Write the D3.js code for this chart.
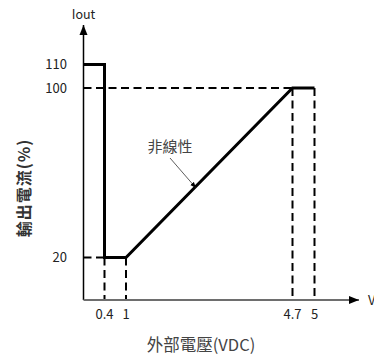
<!DOCTYPE html>
<html><head><meta charset="utf-8">
<script src="https://cdn.jsdelivr.net/npm/d3@7"></script>
<style>body{margin:0;background:#fff}svg{display:block}text{font-family:"Noto Sans CJK TC","Noto Sans",sans-serif}</style>
</head><body>
<script>
const xTicks = [0.4, 1, 4.7, 5];
const yTicks = [20, 100, 110];
const curveX = [0, 0.4, 0.4, 1, 4.7, 5];
const curveY = [110, 110, 20, 20, 100, 100];
const guideH = [[0, 0.4, 20], [0, 4.7, 100]];
const guideV = [[0.4, 20], [1, 20], [4.7, 100], [5, 100]];
const xTitle = "外部電壓(VDC)";
const yTitle = "輸出電流(%)";
const yAxisLabel = "Iout";
const xAxisLabel = "V";
const annotation = "非線性";

const W = 374, H = 357;
const svg = d3.select("body").append("svg").attr("width", W).attr("height", H);
const x = d3.scaleLinear().domain([0, 0.4, 1, 4.7, 5]).range([83.5, 104.5, 126, 292.5, 314.5]);
const y = d3.scaleLinear().domain([0, 20, 100, 110]).range([300, 257.5, 88, 64.5]);

const defs = svg.append("defs");
defs.append("marker").attr("id","arr").attr("viewBox","0 0 10 10").attr("refX",10).attr("refY",5)
  .attr("markerWidth",10).attr("markerHeight",10).attr("markerUnits","userSpaceOnUse").attr("orient","auto")
  .append("path").attr("d","M0,1 L10,5 L0,9 Z").attr("fill","#000");
defs.append("marker").attr("id","arrS").attr("viewBox","0 0 10 10").attr("refX",10).attr("refY",5)
  .attr("markerWidth",6).attr("markerHeight",6).attr("markerUnits","userSpaceOnUse").attr("orient","auto")
  .append("path").attr("d","M0,1 L10,5 L0,9 Z").attr("fill","#000");

// guides
const dash = "8,4.5";
svg.selectAll(".gh").data(guideH).join("line")
  .attr("x1", d => x(d[0])).attr("x2", d => x(d[1])).attr("y1", d => y(d[2])).attr("y2", d => y(d[2]))
  .attr("stroke","#000").attr("stroke-width",2).attr("stroke-dasharray",dash);
svg.selectAll(".gv").data(guideV).join("line")
  .attr("x1", d => x(d[0])).attr("x2", d => x(d[0])).attr("y1", d => y(d[1])).attr("y2", y(0))
  .attr("stroke","#000").attr("stroke-width",2).attr("stroke-dasharray",dash);

// axes
svg.append("line").attr("x1", x(0)).attr("x2", x(0)).attr("y1", y(0)).attr("y2", 25)
  .attr("stroke","#000").attr("stroke-width",1.5).attr("marker-end","url(#arr)");
svg.append("line").attr("x1", x(0)).attr("x2", 359).attr("y1", y(0)).attr("y2", y(0))
  .attr("stroke","#6e6e6e").attr("stroke-width",1.8).attr("marker-end","url(#arr)");

// curve
svg.append("path").datum(curveX.map((v,i)=>[v,curveY[i]]))
  .attr("d", d3.line().x(d=>x(d[0])).y(d=>y(d[1])))
  .attr("fill","none").attr("stroke","#000").attr("stroke-width",3).attr("stroke-linejoin","miter");

// tick labels
svg.selectAll(".yt").data(yTicks).join("text").attr("x", 67).attr("y", d => y(d)).attr("dy","0.35em")
  .attr("text-anchor","end").attr("font-size",13).attr("fill","#222").text(d => d);
svg.selectAll(".xt").data(xTicks).join("text").attr("x", d => x(d)).attr("y", 314).attr("dy","0.35em")
  .attr("text-anchor","middle").attr("font-size",13).attr("fill","#222").text(d => d);

svg.append("text").attr("x", x(0)).attr("y", 15).attr("dy","0.35em").attr("text-anchor","middle")
  .attr("font-size",12.5).attr("fill","#222").text(yAxisLabel);
svg.append("text").attr("x", 368).attr("y", y(0)).attr("dy","0.35em").attr("text-anchor","start")
  .attr("font-size",13).attr("fill","#222").text(xAxisLabel);

// titles
svg.append("text").attr("x", 201).attr("y", 345).attr("dy","0.35em").attr("text-anchor","middle")
  .attr("font-size",16.5).attr("fill","#444").text(xTitle);
svg.append("text").attr("transform","translate(24,188) rotate(-90)").attr("dy","0.35em").attr("text-anchor","middle")
  .attr("font-size",16).attr("font-weight","bold").attr("letter-spacing",1).attr("fill","#333").text(yTitle);

// annotation
svg.append("text").attr("x", 170).attr("y", 147).attr("dy","0.35em").attr("text-anchor","middle")
  .attr("font-size",15).attr("fill","#444").text(annotation);
svg.append("line").attr("x1",170).attr("y1",158).attr("x2",196).attr("y2",188)
  .attr("stroke","#333").attr("stroke-width",0.8).attr("marker-end","url(#arrS)");
</script>
</body></html>
